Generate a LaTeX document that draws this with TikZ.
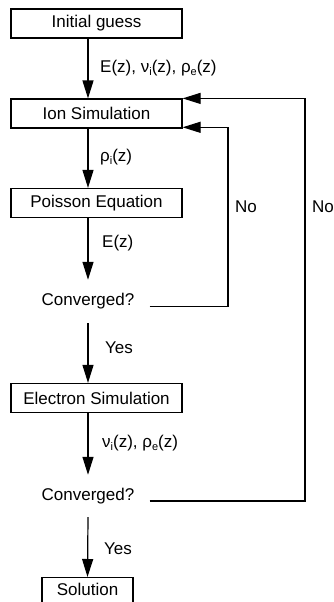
\documentclass[tikz,border=0pt]{standalone}
\usepackage{fontspec}
\setmainfont{Liberation Sans}
\usetikzlibrary{arrows.meta}
\newcommand\sbs[1]{\raisebox{-0.4ex}{\fontsize{11}{11}\selectfont #1}}
\tikzset{
  stepbox/.style={draw, line width=1.2pt, minimum height=29pt, inner sep=0pt, font=\fontsize{17}{17}\selectfont},
  lbl/.style={anchor=west, inner sep=0pt, font=\fontsize{17}{17}\selectfont},
  condnode/.style={inner xsep=15pt, inner ysep=0pt, font=\fontsize{17}{17}\selectfont},
  arr/.style={line width=1.2pt, -{Triangle[length=18pt,width=11pt]}},
  ln/.style={line width=1.2pt}
}
\begin{document}
\begin{tikzpicture}[x=1pt,y=-1pt]
\useasboundingbox (0,0) rectangle (334,602);
\clip (0,0) rectangle (334,602);
\node[stepbox, minimum width=171pt] (init) at (96.5,23.5) {Initial guess};
\node[stepbox, minimum width=171pt] (ion) at (96.5,113.5) {Ion Simulation};
\node[stepbox, minimum width=171pt] (pois) at (96.5,203) {Poisson Equation};
\node[condnode, minimum height=43pt] (conv1) at (88,301.5) {Converged?};
\node[stepbox, minimum width=171pt] (elec) at (96.5,398) {Electron Simulation};
\node[condnode, minimum height=42pt] (conv2) at (88,496) {Converged?};
\node[stepbox, minimum width=91pt, minimum height=0pt, anchor=north, text height=18pt, text depth=16pt] (sol) at (87.5,577) {Solution};
\coordinate (col) at (88,0);
\coordinate (r1) at (228,200);
\coordinate (r2) at (305,300);
% labels
\node[lbl] (l1) at (100,68) {E(z), ν\sbs{i}(z), ρ\sbs{e}(z)};
\node[lbl] (l2) at (100,157) {ρ\sbs{i}(z)};
\node[lbl] (l3) at (102,243) {E(z)};
\node[lbl] (l4) at (105,348) {Yes};
\node[lbl] (l5) at (102,443) {ν\sbs{i}(z), ρ\sbs{e}(z)};
\node[lbl] (l6) at (104,549) {Yes};
\node[lbl] (no1) at (235,207) {No};
\node[lbl] (no2) at (312,207) {No};
% arrows
\draw[arr] (init.south -| col) -- (ion.north -| col);
\draw[arr] (ion.south -| col) -- (pois.north -| col);
\draw[arr] (pois.south -| col) -- (conv1.north);
\draw[arr] (conv1.south) -- (elec.north -| col);
\draw[arr] (elec.south -| col) -- (conv2.north);
\draw[arr] (conv2.south) -- (sol.north);
\draw[arr] ([yshift=-5pt]conv1.east) -| (r1) |- ([yshift=1.3pt]ion.south east);
\draw[arr] ([yshift=-5pt]conv2.east) -| (r2) |- (ion.north east);
\end{tikzpicture}
\end{document}
